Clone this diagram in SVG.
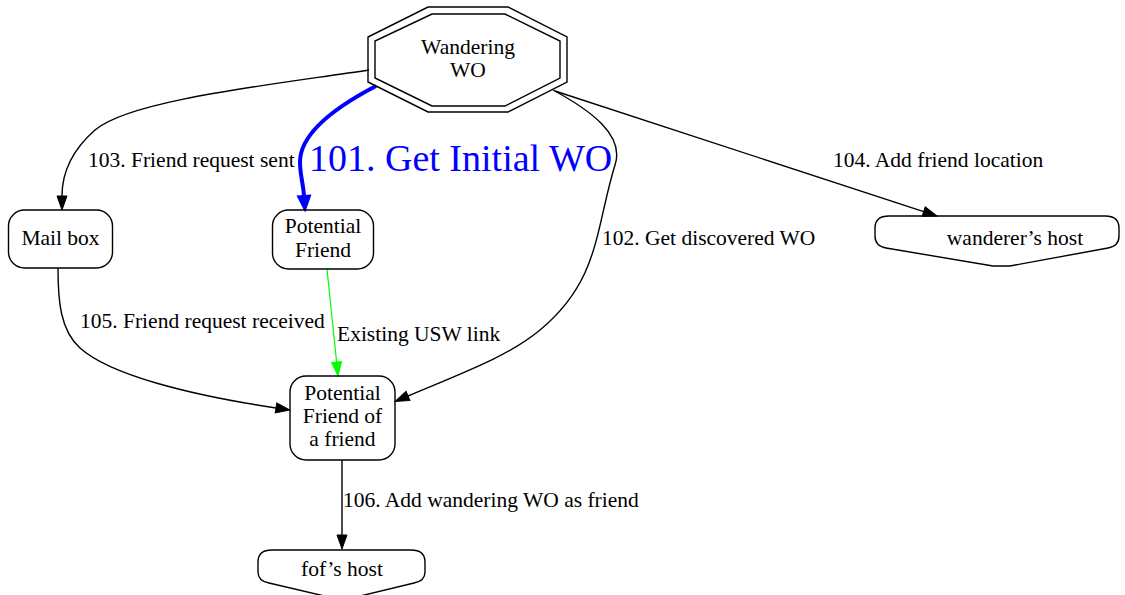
<svg xmlns="http://www.w3.org/2000/svg" width="1125" height="595" viewBox="0 0 1125 595" font-family="'Liberation Serif', 'Times New Roman', Times, serif">
<defs>
<style>
.n{fill:none;stroke:#000;stroke-width:1.4}
.t{font-family:'Liberation Serif','Times New Roman',Times,serif;font-size:21.5px;fill:#000}
.c{text-anchor:middle}
.e{fill:none;stroke:#000;stroke-width:1.4}
</style>
<marker id="ab" markerUnits="userSpaceOnUse" markerWidth="15" markerHeight="11" refX="0" refY="5" orient="auto" overflow="visible">
<path d="M0,0 L14,5 L0,10 Z" fill="#000" stroke="#000" stroke-width="1"/>
</marker>
<marker id="ag" markerUnits="userSpaceOnUse" markerWidth="15" markerHeight="11" refX="0" refY="5" orient="auto" overflow="visible">
<path d="M0,0 L14,5 L0,10 Z" fill="#00ff00" stroke="#00ff00" stroke-width="1"/>
</marker>
<marker id="abl" markerUnits="userSpaceOnUse" markerWidth="15" markerHeight="13" refX="0" refY="6" orient="auto" overflow="visible">
<path d="M0,0 L14,6 L0,12 Z" fill="#0000ff" stroke="#0000ff" stroke-width="2"/>
</marker>
</defs>
<rect width="1125" height="595" fill="#fff"/>
<g id="connectors">
<path class="e" d="M369,70 C270,85 130,100 95,130 C70,152 62,175 62,196" marker-end="url(#ab)"/>
<path d="M376,86 C330,110 300,135 300,162 C300,175 303,182 304,196" fill="none" stroke="#0000ff" stroke-width="4" marker-end="url(#abl)"/>
<path class="e" d="M553,90 C590,110 625,135 615,165 C595,230 600,280 540,330 C510,355 470,370 408,396" marker-end="url(#ab)"/>
<path class="e" d="M555,91 L923.7,211.6" marker-end="url(#ab)"/>
<path class="e" d="M58,268 C58,300 60,330 80,348 C110,375 190,395 276,408" marker-end="url(#ab)"/>
<path d="M327,269 L336.6,362.1" fill="none" stroke="#00ff00" stroke-width="1.2" marker-end="url(#ag)"/>
<path class="e" d="M342,460 L342,535" marker-end="url(#ab)"/>
<text class="t" x="88" y="167">103. Friend request sent</text>
<text x="309" y="171" font-family="'Liberation Serif', 'Times New Roman', Times, serif" font-size="38" fill="#0000ff">101. Get Initial WO</text>
<text class="t" x="833" y="167">104. Add friend location</text>
<text class="t" x="602" y="245">102. Get discovered WO</text>
<text class="t" x="80" y="328">105. Friend request received</text>
<text class="t" x="337" y="341">Existing USW link</text>
<text class="t" x="343" y="507">106. Add wandering WO as friend</text>
</g>
<g id="wandering-wo">
<polygon class="n" points="428,7 508,7 567,37 567,82 508,112 428,112 368,82 368,37"/>
<polygon class="n" points="432,14 505,14 560,41 560,78 505,106 432,106 375,78 375,41"/>
<text class="t c" x="468" y="54">Wandering</text>
<text class="t c" x="468" y="77">WO</text>
</g>
<g id="mail-box">
<rect class="n" x="8.5" y="210" width="104" height="58" rx="16"/>
<text class="t c" x="60.5" y="245">Mail box</text>
</g>
<g id="potential-friend">
<rect class="n" x="272.5" y="210" width="101" height="59" rx="16"/>
<text class="t c" x="323" y="233">Potential</text>
<text class="t c" x="323" y="257">Friend</text>
</g>
<g id="potential-fof">
<rect class="n" x="290" y="376" width="105" height="84" rx="16"/>
<text class="t c" x="342.5" y="400">Potential</text>
<text class="t c" x="342.5" y="423">Friend of</text>
<text class="t c" x="342.5" y="446">a friend</text>
</g>
<g id="wanderers-host">
<path class="n" d="M889,216 L1105,216 Q1119,216 1119,228 L1119,236 Q1119,246 1108,248 L1010,266 L993,266 L886,248 Q875,246 875,236 L875,228 Q875,216 889,216 Z"/>
<text class="t c" x="1015" y="245">wanderer’s host</text>
</g>
<g id="fofs-host">
<path class="n" d="M272,550 L411,550 Q425,550 425,562 L425,572 Q425,581 414,583 L352,598 L333,598 L269,583 Q258,581 258,572 L258,562 Q258,550 272,550 Z"/>
<text class="t c" x="342" y="576">fof’s host</text>
</g>
</svg>
